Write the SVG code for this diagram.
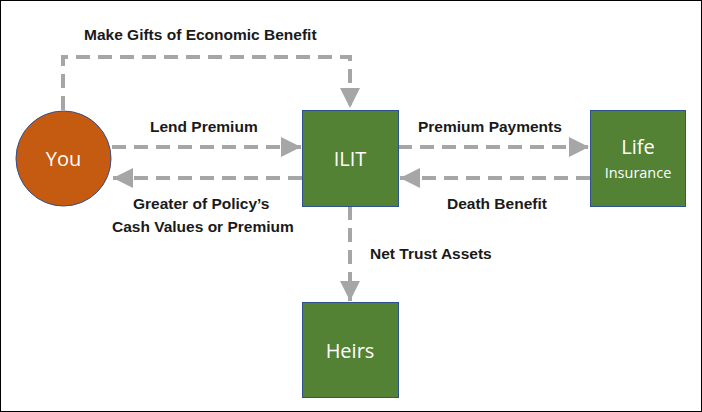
<svg xmlns="http://www.w3.org/2000/svg" width="702" height="412" viewBox="0 0 702 412">
<defs>
<marker id="ah" markerWidth="5" markerHeight="5" refX="5" refY="2.5" orient="auto" markerUnits="strokeWidth"><path d="M0,0 L5,2.5 L0,5 Z" fill="#A6A6A6"/></marker>
<style>
.c{fill:none;stroke:#A6A6A6;stroke-width:4;stroke-dasharray:14,8;marker-end:url(#ah)}
.l{font-family:"Liberation Sans",Arial,sans-serif;font-weight:bold;font-size:15.5px;fill:#1a1a1a}
.n{font-family:"Open Sans","Liberation Sans",sans-serif;fill:#fff;text-anchor:middle}
.b{fill:#548235;stroke:#2F528F;stroke-width:1}
</style>
</defs>
<rect x="0.5" y="0.5" width="701" height="411" fill="#fff" stroke="#000"/>
<g id="connectors">
<path class="c" d="M63,110 V57 H350 V108"/>
<path class="c" d="M112,147 H301"/>
<path class="c" d="M302,178 H113"/>
<path class="c" d="M398,147 H589"/>
<path class="c" d="M590,178 H400"/>
<path class="c" d="M350,206 V301"/>
</g>
<g id="labels">
<text class="l" x="84" y="40">Make Gifts of Economic Benefit</text>
<text class="l" x="150" y="132">Lend Premium</text>
<text class="l" x="133" y="209">Greater of Policy’s</text>
<text class="l" x="112" y="232">Cash Values or Premium</text>
<text class="l" x="418" y="132">Premium Payments</text>
<text class="l" x="447" y="209">Death Benefit</text>
<text class="l" x="370" y="259">Net Trust Assets</text>
</g>
<g id="you"><circle cx="63.5" cy="158.5" r="47.5" fill="#C55A11" stroke="#2F528F"/><text class="n" x="63.5" y="166" font-size="20">You</text></g>
<g id="ilit"><rect class="b" x="302.5" y="110.5" width="96" height="96"/><text class="n" x="350" y="166" font-size="20">ILIT</text></g>
<g id="life"><rect class="b" x="590.5" y="110.5" width="95" height="96"/><text class="n" x="638" y="154" font-size="20">Life</text><text class="n" x="638" y="178" font-size="14.5">Insurance</text></g>
<g id="heirs"><rect class="b" x="302.5" y="302.5" width="96" height="95"/><text class="n" x="350" y="358" font-size="20">Heirs</text></g>
</svg>
